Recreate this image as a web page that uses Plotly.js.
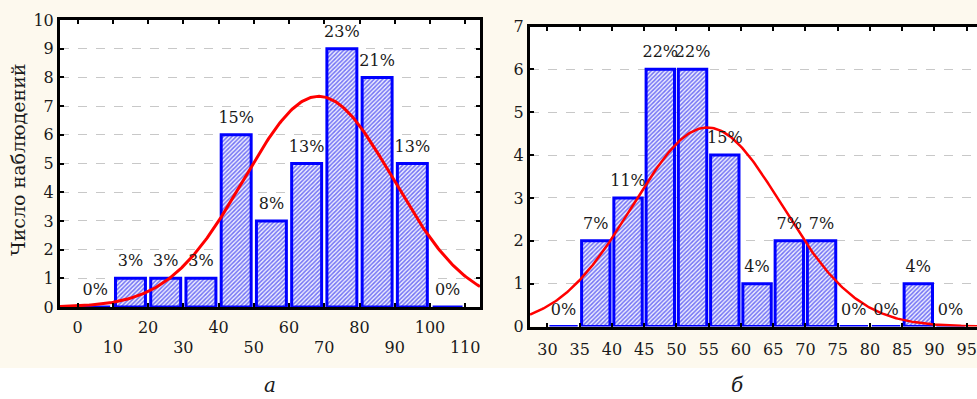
<!DOCTYPE html>
<html><head><meta charset="utf-8">
<script src="https://cdn.plot.ly/plotly-3.0.1.min.js"></script>
<style>html,body{margin:0;padding:0;background:#fff}</style>
</head><body>
<div id="chart" style="width:977px;height:399px"></div>
<script>
// Panel а
const binsA = [5, 15, 25, 35, 45, 55, 65, 75, 85, 95, 105];
const countsA = [0, 1, 1, 1, 6, 3, 5, 9, 8, 5, 0];
const labelsA = ['0%', '3%', '3%', '3%', '15%', '8%', '13%', '23%', '21%', '13%', '0%'];
const widthA = 10;
const meanA = 68.4, sdA = 21.2, nA = 39;
const evenTicksA = [0, 20, 40, 60, 80, 100];
const oddTicksA = [10, 30, 50, 70, 90, 110];

// Panel б
const binsB = [32.5, 37.5, 42.5, 47.5, 52.5, 57.5, 62.5, 67.5, 72.5, 77.5, 82.5, 87.5, 92.5];
const countsB = [0, 2, 3, 6, 6, 4, 1, 2, 2, 0, 0, 1, 0];
const labelsB = ['0%', '7%', '11%', '22%', '22%', '15%', '4%', '7%', '7%', '0%', '0%', '4%', '0%'];
const widthB = 5;
const meanB = 54.8, sdB = 11.6, nB = 27;
const ticksB = [30, 35, 40, 45, 50, 55, 60, 65, 70, 75, 80, 85, 90, 95];

function normalCurve(mean, sd, n, w, x0, x1) {
  const xs = [], ys = [];
  for (let i = 0; i <= 300; i++) {
    const x = x0 + (x1 - x0) * i / 300;
    xs.push(x);
    ys.push(n * w * Math.exp(-0.5 * ((x - mean) / sd) ** 2) / (sd * Math.sqrt(2 * Math.PI)));
  }
  return {xs, ys};
}

const FONT = "'DejaVu Serif', 'Liberation Serif', serif";
const TXT = '#1a1a1a';
const FS = 16;
const barStyle = {
  color: '#b0b0f8',
  line: {color: '#0000ff', width: 3},
  pattern: {shape: '/', fgcolor: '#7272f4', bgcolor: '#eeeeff', size: 3, solidity: 0.5}
};

const cA = normalCurve(meanA, sdA, nA, widthA, -5, 114.2);
const cB = normalCurve(meanB, sdB, nB, widthB, 27.3, 96.8);

const labelMarker = {size: 11, opacity: 0, color: 'rgba(0,0,0,0)'};

const traces = [
  {type: 'bar', x: binsA, y: countsA, width: widthA * 0.85, marker: barStyle, xaxis: 'x', yaxis: 'y', hoverinfo: 'none'},
  {type: 'scatter', mode: 'lines', x: cA.xs, y: cA.ys, line: {color: '#ff0000', width: 3}, xaxis: 'x', yaxis: 'y'},
  {type: 'scatter', mode: 'markers+text', x: binsA, y: countsA, text: labelsA, textposition: 'top center',
   textfont: {family: FONT, size: FS, color: TXT}, marker: labelMarker, xaxis: 'x', yaxis: 'y', cliponaxis: false},
  {type: 'bar', x: binsB, y: countsB, width: widthB * 0.88, marker: barStyle, xaxis: 'x2', yaxis: 'y2', hoverinfo: 'none'},
  {type: 'scatter', mode: 'lines', x: cB.xs, y: cB.ys, line: {color: '#ff0000', width: 2.5}, xaxis: 'x2', yaxis: 'y2'},
  {type: 'scatter', mode: 'markers+text', x: binsB, y: countsB, text: labelsB, textposition: 'top center',
   textfont: {family: FONT, size: FS, color: TXT}, marker: labelMarker, xaxis: 'x2', yaxis: 'y2', cliponaxis: false},
  {type: 'scatter', mode: 'markers', x: [0], y: [0], marker: {opacity: 0}, xaxis: 'x3', yaxis: 'y', hoverinfo: 'none'}
];

const axCommon = {
  showline: true, linecolor: '#000', linewidth: 3,
  ticks: 'inside', ticklen: 4, tickwidth: 2, tickcolor: '#000',
  tickfont: {family: FONT, size: FS, color: TXT},
  zeroline: false
};

const W = 977, H = 399;
const allTicksA = evenTicksA.concat(oddTicksA).sort((a, b) => a - b);
const layout = {
  width: W, height: H,
  margin: {l: 0, r: 0, t: 0, b: 0},
  paper_bgcolor: '#ffffff', plot_bgcolor: '#ffffff',
  showlegend: false, bargap: 0,
  xaxis: Object.assign({}, axCommon, {
    domain: [60 / W, 480 / W], range: [-5, 114.2], anchor: 'y',
    tickvals: allTicksA,
    ticktext: allTicksA.map(v => evenTicksA.includes(v) ? String(v) : ''),
    mirror: 'ticks', showgrid: false, ticklabelstandoff: 4
  }),
  xaxis3: {
    overlaying: 'x', anchor: 'y', range: [-5, 114.2], side: 'bottom',
    tickvals: oddTicksA, ticktext: oddTicksA.map(String),
    showline: false, showgrid: false, zeroline: false, ticks: '',
    tickfont: {family: FONT, size: FS, color: TXT}, ticklabelstandoff: 29
  },
  yaxis: Object.assign({}, axCommon, {
    domain: [(H - 307) / H, (H - 20) / H], range: [0, 10], anchor: 'x',
    dtick: 1, mirror: 'ticks', showgrid: true, gridcolor: '#c8c8c8', griddash: 'dash', gridwidth: 1,
    ticklabelstandoff: 0
  }),
  xaxis2: Object.assign({}, axCommon, {
    domain: [530 / W, 1], range: [27.3, 96.6], anchor: 'y2',
    tickvals: ticksB, mirror: 'ticks', showgrid: false, ticklabelstandoff: 6
  }),
  yaxis2: Object.assign({}, axCommon, {
    domain: [(H - 326.5) / H, (H - 26.5) / H], range: [0, 7], anchor: 'x2',
    dtick: 1, mirror: false, showgrid: true, gridcolor: '#c8c8c8', griddash: 'dash', gridwidth: 1,
    ticklabelstandoff: 0
  }),
  shapes: [
    {type: 'rect', xref: 'paper', yref: 'paper', x0: 0, x1: 1, y0: (H - 368) / H, y1: 1,
     fillcolor: '#fdf9ee', line: {width: 0}, layer: 'below'},
    {type: 'rect', xref: 'paper', yref: 'paper', x0: 60 / W, x1: 482 / W, y0: (H - 307) / H, y1: (H - 20) / H,
     fillcolor: '#ffffff', line: {width: 0}, layer: 'below'},
    {type: 'rect', xref: 'paper', yref: 'paper', x0: 530 / W, x1: 1, y0: (H - 326.5) / H, y1: (H - 26.5) / H,
     fillcolor: '#ffffff', line: {width: 0}, layer: 'below'}
  ],
  annotations: [
    {text: 'Число наблюдений', xref: 'paper', yref: 'paper', x: 18 / W, y: (H - 160) / H, textangle: -90,
     showarrow: false, xanchor: 'center', yanchor: 'middle', font: {family: FONT, size: 19, color: TXT}},
    {text: '<i>а</i>', xref: 'paper', yref: 'paper', x: 270 / W, y: (H - 385) / H, showarrow: false,
     xanchor: 'center', yanchor: 'middle', font: {family: FONT, size: 20, color: TXT}},
    {text: '<i>б</i>', xref: 'paper', yref: 'paper', x: 737 / W, y: (H - 385) / H, showarrow: false,
     xanchor: 'center', yanchor: 'middle', font: {family: FONT, size: 20, color: TXT}}
  ]
};

Plotly.newPlot('chart', traces, layout, {staticPlot: true, displayModeBar: false});
</script>
</body></html>
